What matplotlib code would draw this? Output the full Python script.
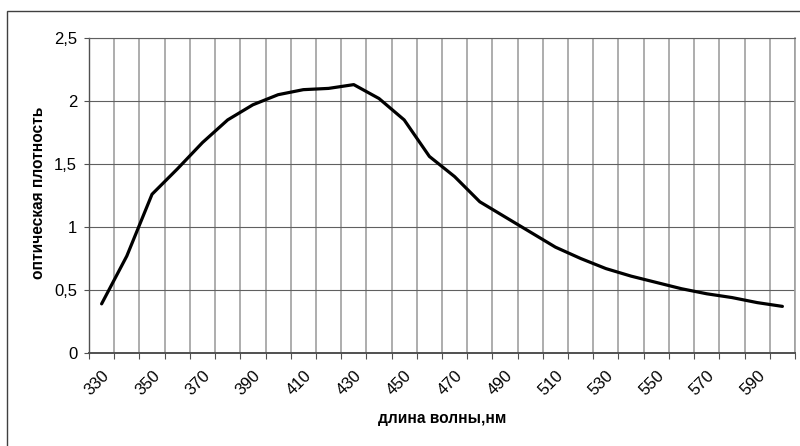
import matplotlib
matplotlib.use("Agg")
import matplotlib.pyplot as plt
from matplotlib.patches import Rectangle
from matplotlib.ticker import FixedLocator, FuncFormatter
from matplotlib.transforms import ScaledTranslation

plt.rcParams['font.family'] = ['Liberation Sans', 'DejaVu Sans']

# спектр поглощения
wavelength = [330, 340, 350, 360, 370, 380, 390, 400, 410, 420,
              430, 440, 450, 460, 470, 480, 490, 500, 510, 520,
              530, 540, 550, 560, 570, 580, 590, 600]
density = [0.39, 0.77, 1.26, 1.46, 1.67, 1.85, 1.97, 2.05, 2.09, 2.10,
           2.13, 2.02, 1.85, 1.56, 1.40, 1.20, 1.08, 0.96, 0.84, 0.75,
           0.67, 0.61, 0.56, 0.51, 0.47, 0.44, 0.40, 0.37]
x_labels = [330, 350, 370, 390, 410, 430, 450, 470, 490, 510, 530, 550, 570, 590]
y_ticks = [0, 0.5, 1, 1.5, 2, 2.5]

fig = plt.figure(figsize=(8, 4.46), dpi=100)
fig.patches.append(Rectangle((7 / 800, -0.1), 1.2, 1.1 - 11 / 446,
                             transform=fig.transFigure, fill=False,
                             edgecolor='#404040', linewidth=1.0))

ax = fig.add_axes([89 / 800, 1 - 353 / 446, (795 - 89) / 800, (353 - 38) / 446])
ax.plot(wavelength, density, color='black', linewidth=2.3,
        solid_joinstyle='round', solid_capstyle='round', zorder=3)

ax.set_xlim(325, 605)
ax.set_ylim(0, 2.5)

# границы категорий - сетка и мелкие засечки
ax.xaxis.set_minor_locator(FixedLocator([w - 5 for w in wavelength] + [605]))
ax.xaxis.set_major_locator(FixedLocator(x_labels))
ax.set_xticklabels([str(v) for v in x_labels], rotation=45, ha='right', va='top',
                   rotation_mode='anchor', fontsize=12)
shift = ScaledTranslation(-3 / 100, 0, fig.dpi_scale_trans)
for lbl in ax.get_xticklabels():
    lbl.set_transform(lbl.get_transform() + shift)
ax.tick_params(axis='x', which='major', length=0, pad=11)
ax.tick_params(axis='x', which='minor', length=4, width=0.8, color='#505050')
ax.grid(True, axis='x', which='minor', color='#a0a0a0', linewidth=1.2)

ax.set_yticks(y_ticks)
ax.yaxis.set_major_formatter(FuncFormatter(lambda v, p: f"{v:g}".replace('.', ',')))
ax.tick_params(axis='y', length=3.5, width=0.8, color='#505050', labelsize=12, pad=5)
ax.grid(True, axis='y', which='major', color='#606060', linewidth=0.8)
ax.set_axisbelow(True)

for side in ('left', 'bottom'):
    ax.spines[side].set_color('#505050')
ax.spines['bottom'].set_linewidth(1.4)
ax.spines['left'].set_linewidth(1.0)
ax.spines['top'].set_color('#606060')
ax.spines['top'].set_linewidth(0.8)
ax.spines['right'].set_color('#a0a0a0')
ax.spines['right'].set_linewidth(1.2)

fig.text(442 / 800, 1 - 418 / 446, 'длина волны,нм', ha='center', va='center',
         fontsize=11.2, fontweight='bold')
fig.text(39 / 800, 1 - 193 / 446, 'оптическая плотность', ha='center', va='center',
         rotation=90, fontsize=11.2, fontweight='bold')

fig.savefig('out.png', dpi=100)
